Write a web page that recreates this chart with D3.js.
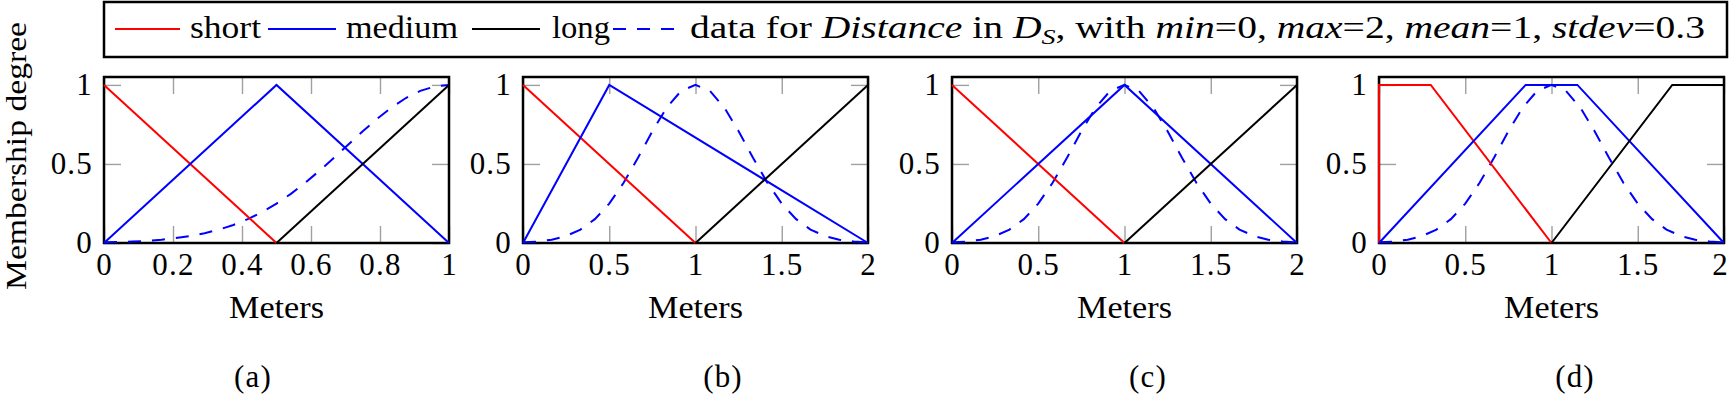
<!DOCTYPE html>
<html>
<head>
<meta charset="utf-8">
<script src="https://cdn.jsdelivr.net/npm/d3@7"></script>
<style>
  body { margin: 0; background: #fff; }
  svg text { font-family: "Liberation Serif", "Times New Roman", serif; font-size: 31px; fill: #000; }
  .tick text, .caption { letter-spacing: 1.2px; }
  .tick line { stroke: #a0a0a0; stroke-width: 1.4; }
</style>
</head>
<body>
<script>
// Panel data
let panelNames = ["(a)", "(b)", "(c)", "(d)"];
let xMax = [1, 2, 2, 2];
let xTicks = [
  [0, 0.2, 0.4, 0.6, 0.8, 1],
  [0, 0.5, 1, 1.5, 2],
  [0, 0.5, 1, 1.5, 2],
  [0, 0.5, 1, 1.5, 2]
];
let yTicks = [0, 0.5, 1];

let shortPts = [
  [[0, 1], [0.5, 0]],
  [[0, 1], [1, 0]],
  [[0, 1], [1, 0]],
  [[0, 0], [0, 1], [0.3, 1], [1, 0]]
];
let mediumPts = [
  [[0, 0], [0.5, 1], [1, 0]],
  [[0, 0], [0.5, 1], [2, 0]],
  [[0, 0], [1, 1], [2, 0]],
  [[0, 0], [0.85, 1], [1.15, 1], [2, 0]]
];
let longPts = [
  [[0.5, 0], [1, 1]],
  [[1, 0], [2, 1]],
  [[1, 0], [2, 1]],
  [[1, 0], [1.7, 1], [2, 1]]
];

// dashed "data" curve, 25 samples over each panel's x range
let dataA = [0.004, 0.006, 0.009, 0.014, 0.021, 0.031, 0.044, 0.062, 0.085, 0.114, 0.151, 0.196,
             0.249, 0.311, 0.381, 0.458, 0.539, 0.623, 0.707, 0.786, 0.857, 0.917, 0.962, 0.990, 1];
let dataBCD = [0.004, 0.009, 0.021, 0.044, 0.085, 0.151, 0.249, 0.381, 0.539, 0.707, 0.857, 0.962, 1,
               0.962, 0.857, 0.707, 0.539, 0.381, 0.249, 0.151, 0.085, 0.044, 0.021, 0.009, 0.004];
let dataY = [dataA, dataBCD, dataBCD, dataBCD];

let w = 1731, h = 395;
let panelLeft = [104, 523, 952, 1379], panelW = 345;
let plotTop = 77, plotBottom = 243, tickLen = 17;
let captionX = [253, 723, 1148, 1575];

let svg = d3.select("body").append("svg")
  .attr("width", w)
  .attr("height", h);

let line = (xs, ys) => d3.line().x(d => xs(d[0])).y(d => ys(d[1]));

panelNames.forEach((name, i) => {
  let xScale = d3.scaleLinear().domain([0, xMax[i]]).range([panelLeft[i], panelLeft[i] + panelW]);
  let yScale = d3.scaleLinear().domain([0, 1.05]).range([plotBottom, plotTop]);
  let g = svg.append("g");

  // axes with inward gray ticks
  let gx = g.append("g")
    .attr("transform", "translate(0," + plotBottom + ")")
    .call(d3.axisBottom(xScale).tickValues(xTicks[i]).tickSize(-tickLen).tickPadding(10).tickFormat(d3.format("")));
  // keep the last label inside the page
  gx.selectAll(".tick text").filter(d => xScale(d) > w - 12).attr("dx", -4);
  g.append("g")
    .attr("transform", "translate(0," + plotTop + ")")
    .call(d3.axisTop(xScale).tickValues(xTicks[i]).tickSize(-tickLen).tickFormat(""));
  g.append("g")
    .attr("transform", "translate(" + panelLeft[i] + ",0)")
    .call(d3.axisLeft(yScale).tickValues(yTicks).tickSize(-tickLen).tickPadding(11).tickFormat(d3.format("")));
  g.append("g")
    .attr("transform", "translate(" + (panelLeft[i] + panelW) + ",0)")
    .call(d3.axisRight(yScale).tickValues(yTicks).tickSize(-tickLen).tickFormat(""));
  g.selectAll(".domain").remove();
  g.selectAll("g[font-family]").attr("font-family", null).attr("font-size", null);

  // frame
  g.append("rect")
    .attr("x", panelLeft[i]).attr("y", plotTop)
    .attr("width", panelW).attr("height", plotBottom - plotTop)
    .attr("fill", "none").attr("stroke", "#000").attr("stroke-width", 2.5);

  let ln = line(xScale, yScale);
  let dataPts = dataY[i].map((v, k) => [k / 24 * xMax[i], v]);

  g.append("path").datum(dataPts).attr("d", ln)
    .attr("fill", "none").attr("stroke", "#0000ff").attr("stroke-width", 2)
    .attr("stroke-dasharray", "13,11");
  g.append("path").datum(shortPts[i]).attr("d", ln)
    .attr("fill", "none").attr("stroke", "#ff0000").attr("stroke-width", 2);
  g.append("path").datum(mediumPts[i]).attr("d", ln)
    .attr("fill", "none").attr("stroke", "#0000ff").attr("stroke-width", 2);
  g.append("path").datum(longPts[i]).attr("d", ln)
    .attr("fill", "none").attr("stroke", "#000").attr("stroke-width", 2);

  g.append("text")
    .attr("x", panelLeft[i] + panelW / 2)
    .attr("y", 318)
    .attr("text-anchor", "middle")
    .attr("textLength", 95)
    .attr("lengthAdjust", "spacingAndGlyphs")
    .text("Meters");

  svg.append("text")
    .attr("class", "caption")
    .attr("x", captionX[i])
    .attr("y", 387)
    .attr("text-anchor", "middle")
    .text(name);
});

// y label
svg.append("text")
  .attr("transform", "translate(26,156) rotate(-90)")
  .attr("text-anchor", "middle")
  .style("font-size", "29px")
  .attr("textLength", 268)
  .attr("lengthAdjust", "spacingAndGlyphs")
  .text("Membership degree");

// Legend
svg.append("rect")
  .attr("x", 104).attr("y", 2)
  .attr("width", 1623).attr("height", 55)
  .attr("fill", "none").attr("stroke", "#000").attr("stroke-width", 2.5);

let legendItems = [
  {x1: 115, x2: 180, tx: 190, len: 71, color: "#ff0000", dash: null, label: "short"},
  {x1: 268, x2: 336, tx: 346, len: 112, color: "#0000ff", dash: null, label: "medium"},
  {x1: 472, x2: 540, tx: 552, len: 58, color: "#000", dash: null, label: "long"},
  {x1: 613, x2: 678, tx: 690, len: 0, color: "#0000ff", dash: "13,11", label: null}
];
legendItems.forEach(d => {
  svg.append("line")
    .attr("x1", d.x1).attr("x2", d.x2).attr("y1", 29).attr("y2", 29)
    .attr("stroke", d.color).attr("stroke-width", 2)
    .attr("stroke-dasharray", d.dash);
  if (d.label) svg.append("text")
    .attr("x", d.tx).attr("y", 38)
    .attr("textLength", d.len)
    .attr("lengthAdjust", "spacingAndGlyphs")
    .text(d.label);
});

let dataLabel = svg.append("text")
  .attr("x", 690).attr("y", 38)
  .attr("textLength", 1015)
  .attr("lengthAdjust", "spacingAndGlyphs");
let parts = [
  ["data for ", false], ["Distance", true], [" in ", false], ["D", true], ["S", true, "sub"],
  [", with ", false], ["min", true], ["=0, ", false], ["max", true], ["=2, ", false],
  ["mean", true], ["=1, ", false], ["stdev", true], ["=0.3", false]
];
parts.forEach(p => {
  let t = dataLabel.append("tspan")
    .attr("font-style", p[1] ? "italic" : null)
    .text(p[0]);
  if (p[2] === "sub") {
    t.attr("font-size", "22px").attr("dy", 6);
  } else if (p[0] === ", with ") {
    t.attr("dy", -6);
  }
});
</script>
</body>
</html>
